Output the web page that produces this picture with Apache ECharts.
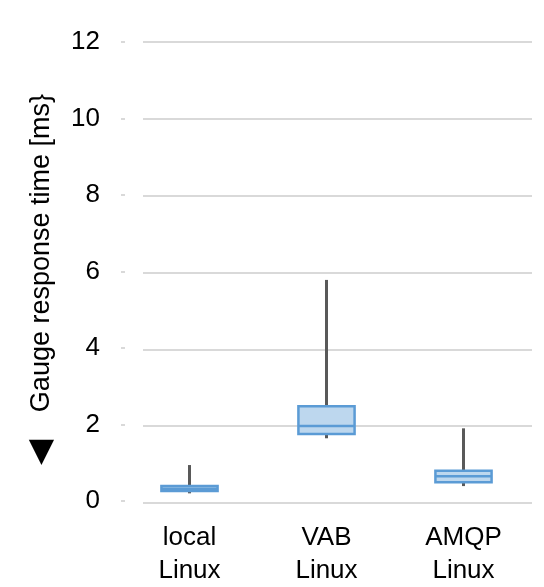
<!DOCTYPE html>
<html>
<head>
<meta charset="utf-8">
<script src="https://cdn.jsdelivr.net/npm/echarts@6/dist/echarts.min.js"></script>
<style>
  html, body { margin: 0; padding: 0; background: #fff; }
  #chart { width: 544px; height: 587px; }
</style>
</head>
<body>
<div id="chart"></div>
<script>
// categories and box statistics (ms)
var categories = ['local\nLinux', 'VAB\nLinux', 'AMQP\nLinux'];
var lowWhisker = [0.20, 1.64, 0.39];
var q1 = [0.26, 1.75, 0.49];
var median = [0.32, 1.96, 0.65];
var q3 = [0.39, 2.48, 0.79];
var highWhisker = [0.94, 5.78, 1.90];
var yMin = 0, yMax = 12, yStep = 2;

var boxData = categories.map(function (c, i) {
    return [i, lowWhisker[i], q1[i], median[i], q3[i], highWhisker[i]];
});

var font = 'Liberation Sans, Arial, sans-serif';
var chart = echarts.init(document.getElementById('chart'));

chart.setOption({
    animation: false,
    grid: [
        { left: 121, right: 12, top: 42, bottom: 84 },
        { left: 143, right: 12, top: 42, bottom: 84 } // gridlines only
    ],
    xAxis: [{
        gridIndex: 0,
        type: 'category',
        data: categories,
        axisLine: { show: false },
        axisTick: { show: false },
        axisLabel: {
            fontFamily: font, fontSize: 26, color: '#000',
            lineHeight: 33, margin: 20
        }
    }, {
        gridIndex: 1,
        type: 'value',
        show: false
    }],
    yAxis: [{
        gridIndex: 0,
        type: 'value',
        min: yMin, max: yMax, interval: yStep,
        name: '{t|◀}   Gauge response time [ms}',
        nameLocation: 'middle',
        nameGap: 63,
        nameTextStyle: {
            fontFamily: font, fontSize: 27, color: '#000',
            padding: [0, 16, 0, 0],
            rich: { t: { fontFamily: 'DejaVu Sans', fontSize: 33, color: '#000', padding: [0, 5, 0, 0] } }
        },
        axisLine: { show: false },
        axisTick: { show: true, inside: true, length: 4, lineStyle: { color: '#D9D9D9', width: 2 } },
        splitLine: { show: false },
        axisLabel: { fontFamily: font, fontSize: 26, color: '#000', margin: 21 }
    }, {
        gridIndex: 1,
        type: 'value',
        min: yMin, max: yMax, interval: yStep,
        axisLine: { show: false },
        axisTick: { show: false },
        axisLabel: { show: false },
        splitLine: { lineStyle: { color: '#D9D9D9', width: 2 } }
    }],
    series: [{
        type: 'custom',
        xAxisIndex: 0,
        yAxisIndex: 0,
        data: boxData,
        renderItem: function (params, api) {
            var x = api.value(0);
            var lo = api.coord([x, api.value(1)]);
            var b1 = api.coord([x, api.value(2)]);
            var md = api.coord([x, api.value(3)]);
            var b3 = api.coord([x, api.value(4)]);
            var hi = api.coord([x, api.value(5)]);
            var w = api.size([1, 0])[0] * 0.41;
            var cx = lo[0];
            return {
                type: 'group',
                children: [{
                    type: 'line',
                    shape: { x1: cx, y1: lo[1], x2: cx, y2: hi[1] },
                    style: { stroke: '#595959', lineWidth: 3 }
                }, {
                    type: 'rect',
                    shape: { x: cx - w / 2, y: b3[1], width: w, height: b1[1] - b3[1] },
                    style: { fill: '#BDD7EE', stroke: '#5B9BD5', lineWidth: 2.5 }
                }, {
                    type: 'line',
                    shape: { x1: cx - w / 2, y1: md[1], x2: cx + w / 2, y2: md[1] },
                    style: { stroke: '#5B9BD5', lineWidth: 2.5 }
                }]
            };
        }
    }]
});
</script>
</body>
</html>
